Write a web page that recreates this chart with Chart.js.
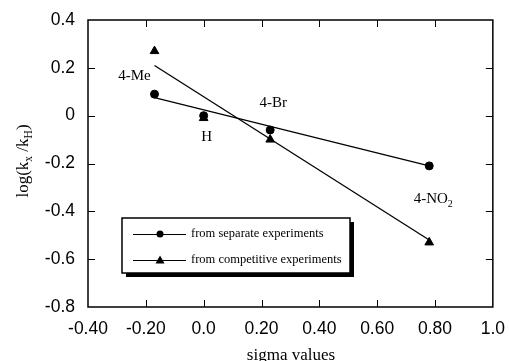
<!DOCTYPE html>
<html>
<head>
<meta charset="utf-8">
<script src="https://cdn.jsdelivr.net/npm/chart.js"></script>
<style>
  body { margin: 0; background: #fff; }
  #wrap { width: 509px; height: 361px; position: relative; }
</style>
</head>
<body>
<div id="wrap"><canvas id="chart"></canvas></div>
<script>
// Datos
const sigma = [-0.17, 0.00, 0.23, 0.78];
const substituents = ['4-Me', 'H', '4-Br', '4-NO2'];
const separate = [0.09, 0.00, -0.06, -0.21];
const competitive = [0.27, -0.01, -0.10, -0.53];

// Rectas de ajuste (extremos)
const fitSigma = [-0.17, 0.78];
const fitSeparate = [0.075, -0.21];
const fitCompetitive = [0.21, -0.52];

const xTickLabels = ['-0.40', '-0.20', '0.0', '0.20', '0.40', '0.60', '0.80', '1.0'];
const yTickLabels = ['0.4', '0.2', '0', '-0.2', '-0.4', '-0.6', '-0.8'];
const seriesNames = ['from separate experiments', 'from competitive experiments'];

const SERIF = '"Liberation Serif", "Times New Roman", serif';
const SANS = '"Liberation Sans", Arial, sans-serif';

function toPoints(xs, ys) {
    return xs.map((x, i) => ({ x: x, y: ys[i] }));
}

// Posicion de cada etiqueta respecto al punto (px)
const labelOffsets = [[-20, -18], [3, 21], [3, -27], [4, 33]];

function drawSubText(ctx, parts, x, y, align) {
    // parts: [texto, esSubindice]
    let total = 0;
    parts.forEach(p => {
        ctx.font = (p[1] ? '11.5px ' : '17px ') + SERIF;
        total += ctx.measureText(p[0]).width;
    });
    let cx = align === 'center' ? x - total / 2 : x;
    parts.forEach(p => {
        ctx.font = (p[1] ? '11.5px ' : '17px ') + SERIF;
        ctx.fillText(p[0], cx, p[1] ? y + 4 : y);
        cx += ctx.measureText(p[0]).width;
    });
}

const framePlugin = {
    id: 'frame',
    afterDraw(chart) {
        const ctx = chart.ctx;
        const a = chart.chartArea;
        const xs = chart.scales.x;
        const ys = chart.scales.y;
        ctx.save();
        ctx.strokeStyle = '#000';
        ctx.fillStyle = '#000';

        // marco
        ctx.lineWidth = 1.5;
        ctx.strokeRect(a.left, a.top, a.right - a.left, a.bottom - a.top);

        // marcas hacia dentro
        ctx.lineWidth = 1;
        ctx.beginPath();
        xs.ticks.forEach(t => {
            const px = Math.round(xs.getPixelForValue(t.value)) + 0.5;
            if (px <= a.left + 1 || px >= a.right - 1) return;
            ctx.moveTo(px, a.bottom); ctx.lineTo(px, a.bottom - 7);
            ctx.moveTo(px, a.top); ctx.lineTo(px, a.top + 7);
        });
        ys.ticks.forEach(t => {
            const py = Math.round(ys.getPixelForValue(t.value)) + 0.5;
            if (py <= a.top + 1 || py >= a.bottom - 1) return;
            ctx.moveTo(a.left, py); ctx.lineTo(a.left + 7, py);
            ctx.moveTo(a.right, py); ctx.lineTo(a.right - 7, py);
        });
        ctx.stroke();

        // titulo eje x
        ctx.textBaseline = 'alphabetic';
        ctx.textAlign = 'center';
        ctx.font = '17px ' + SERIF;
        ctx.fillText('sigma values', 291, 360);

        // titulo eje y
        ctx.save();
        ctx.translate(28, 161);
        ctx.rotate(-Math.PI / 2);
        ctx.textAlign = 'left';
        drawSubText(ctx, [['log(k', 0], ['x', 1], [' /k', 0], ['H', 1], [')', 0]], 0, 0, 'center');
        ctx.restore();

        // etiquetas de los sustituyentes
        ctx.textAlign = 'left';
        ctx.textBaseline = 'middle';
        substituents.forEach((name, i) => {
            const px = xs.getPixelForValue(sigma[i]) + labelOffsets[i][0];
            const py = ys.getPixelForValue(separate[i]) + labelOffsets[i][1];
            ctx.font = '15px ' + SERIF;
            if (name.endsWith('2')) {
                const main = name.slice(0, -1);
                const w = ctx.measureText(main).width;
                ctx.font = '10px ' + SERIF;
                const w2 = ctx.measureText('2').width;
                let sx = px - (w + w2) / 2;
                ctx.font = '15px ' + SERIF;
                ctx.fillText(main, sx, py);
                ctx.font = '10px ' + SERIF;
                ctx.fillText('2', sx + w, py + 5);
            } else {
                ctx.textAlign = 'center';
                ctx.fillText(name, px, py);
                ctx.textAlign = 'left';
            }
        });

        // leyenda
        const bx = 122, by = 218, bw = 228, bh = 55;
        ctx.fillRect(bx + 4, by + 4, bw, bh);
        ctx.fillStyle = '#fff';
        ctx.fillRect(bx, by, bw, bh);
        ctx.fillStyle = '#000';
        ctx.lineWidth = 1.5;
        ctx.strokeRect(bx, by, bw, bh);
        ctx.lineWidth = 1;
        ctx.font = '12.5px ' + SERIF;
        ctx.textBaseline = 'middle';
        seriesNames.forEach((name, i) => {
            const ly = by + 16 + i * 26;
            ctx.beginPath();
            ctx.moveTo(133, ly + 0.5); ctx.lineTo(186, ly + 0.5);
            ctx.stroke();
            ctx.beginPath();
            if (i === 0) {
                ctx.arc(160, ly, 3.5, 0, Math.PI * 2);
            } else {
                ctx.moveTo(160, ly - 4.5);
                ctx.lineTo(164.5, ly + 3.5);
                ctx.lineTo(155.5, ly + 3.5);
                ctx.closePath();
            }
            ctx.fill();
            ctx.fillText(name, 191, ly);
        });
        ctx.restore();
    }
};

new Chart(document.getElementById('chart'), {
    type: 'scatter',
    data: {
        datasets: [{
            label: 'fit separate',
            data: toPoints(fitSigma, fitSeparate),
            showLine: true,
            borderColor: '#000',
            borderWidth: 1.3,
            pointRadius: 0
        }, {
            label: 'fit competitive',
            data: toPoints(fitSigma, fitCompetitive),
            showLine: true,
            borderColor: '#000',
            borderWidth: 1.3,
            pointRadius: 0
        }, {
            label: seriesNames[0],
            data: toPoints(sigma, separate),
            pointStyle: 'circle',
            pointRadius: 4,
            backgroundColor: '#000',
            borderColor: '#000'
        }, {
            label: seriesNames[1],
            data: toPoints(sigma, competitive),
            pointStyle: 'triangle',
            pointRadius: 5,
            backgroundColor: '#000',
            borderColor: '#000'
        }]
    },
    options: {
        responsive: true,
        maintainAspectRatio: false,
        animation: false,
        layout: { padding: { left: 0, top: 20, right: 9, bottom: 0 } },
        plugins: {
            legend: { display: false },
            tooltip: { enabled: false }
        },
        scales: {
            x: {
                type: 'linear',
                min: -0.4,
                max: 1.0,
                grid: { display: false },
                border: { display: false },
                afterFit: s => { s.height = 54; },
                ticks: {
                    stepSize: 0.2,
                    padding: 4,
                    color: '#000',
                    font: { family: SANS, size: 17.5 },
                    maxRotation: 0,
                    callback: (v, i) => xTickLabels[i]
                }
            },
            y: {
                type: 'linear',
                min: -0.8,
                max: 0.4,
                grid: { display: false },
                border: { display: false },
                afterFit: s => { s.width = 88; },
                ticks: {
                    stepSize: 0.2,
                    padding: 5,
                    color: '#000',
                    font: { family: SANS, size: 17.5 },
                    callback: (v, i) => yTickLabels[yTickLabels.length - 1 - i]
                }
            }
        }
    },
    plugins: [framePlugin]
});
</script>
</body>
</html>
